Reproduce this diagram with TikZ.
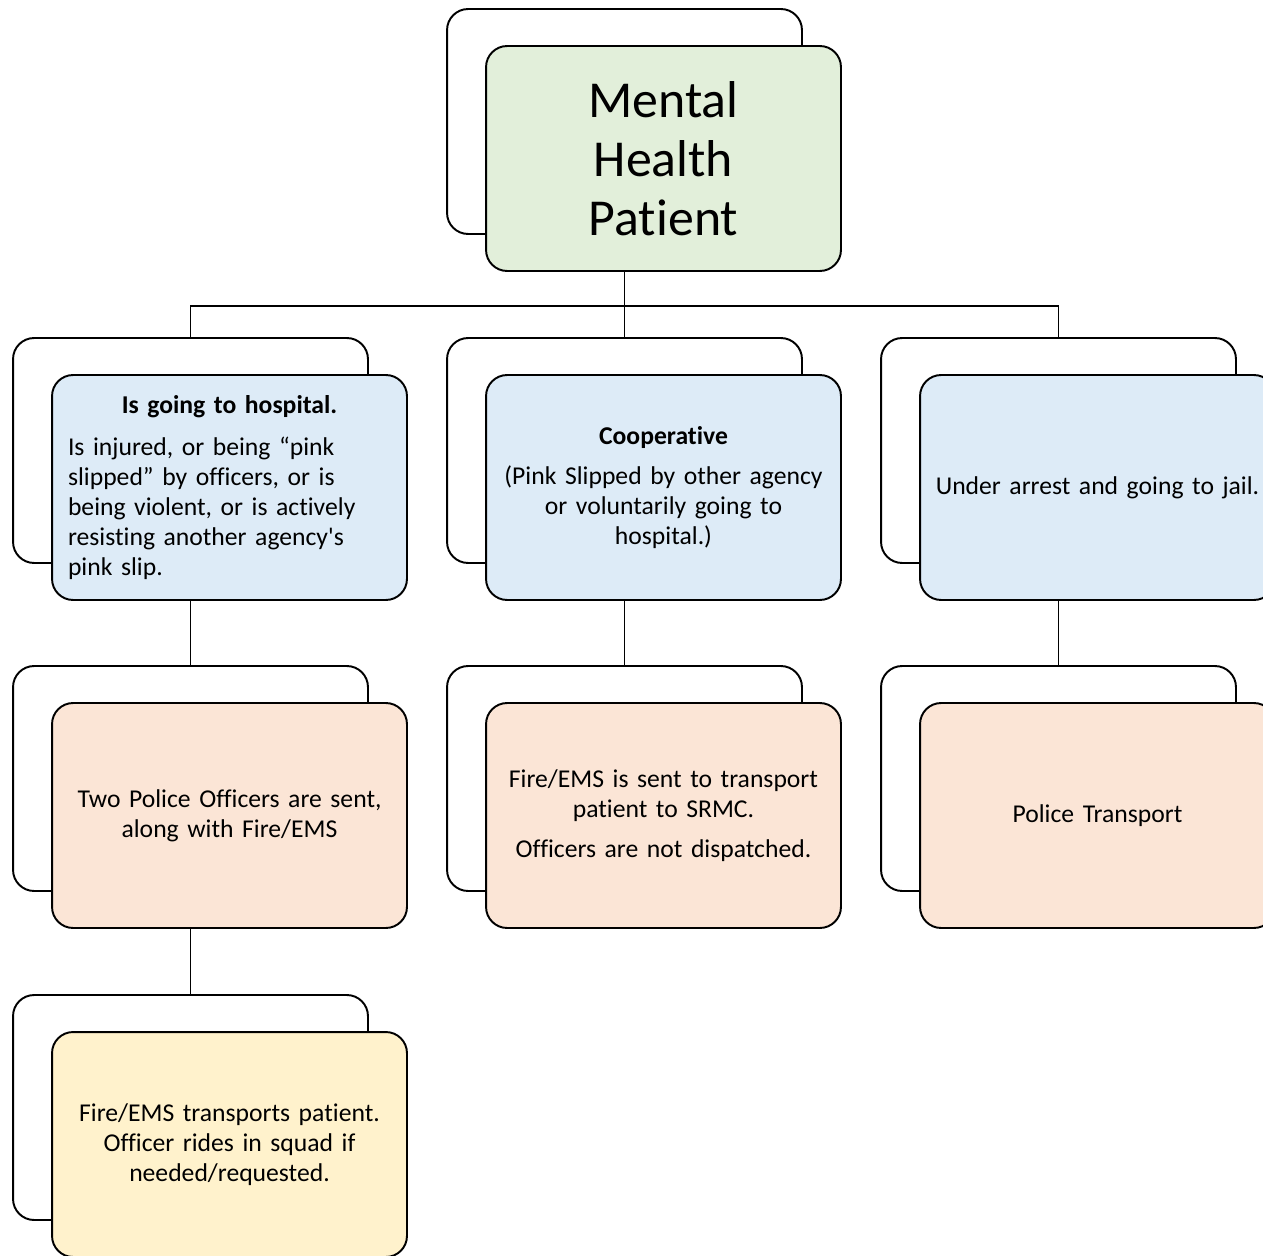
\documentclass[tikz,border=0pt]{standalone}
\usepackage{fontspec}
\setmainfont{Carlito}[Ligatures=NoCommon]
\usepackage{tikz}

\definecolor{mhgreen}{HTML}{E2EFDA}
\definecolor{mhblue}{HTML}{DDEBF7}
\definecolor{mhpeach}{HTML}{FBE5D6}
\definecolor{mhyellow}{HTML}{FFF2CC}

\newcommand{\boxfont}{\fontsize{14.6}{17}\selectfont}
\newcommand{\titlefont}{\fontsize{29.5}{33.5}\selectfont}

\tikzset{
    backbox/.style={draw, line width=1.1pt, rounded corners=12pt, fill=white,
        minimum width=7.1cm, minimum height=4.5cm},
    frontbox/.style={backbox, text width=6.7cm, align=center, inner sep=0pt, font=\boxfont},
    link/.style={line width=1.1pt},
}

\begin{document}
\begin{tikzpicture}[x=0.02cm, y=-0.02cm]
    \useasboundingbox (0,0) rectangle (1263,1256);
    \clip (0,0) rectangle (1263,1256);

    % Shadow boxes behind each card
    \node[backbox] (patientback) at (624.5,121.5) {};
    \node[backbox] (hospback)    at (190.5,450.5) {};
    \node[backbox] (coopback)    at (624.5,450.5) {};
    \node[backbox] (arrestback)  at (1058.5,450.5) {};
    \node[backbox] (sentback)    at (190.5,778.5) {};
    \node[backbox] (emsback)     at (624.5,778.5) {};
    \node[backbox] (policeback)  at (1058.5,778.5) {};
    \node[backbox] (rideback)    at (190.5,1107.5) {};

    % Tree lines
    \draw[link] (patientback.south) -- ++(0,71) -| (hospback.north);
    \draw[link] (patientback.south) -- ++(0,71) -| (arrestback.north);
    \draw[link] (patientback.south) -- (coopback.north);
    \draw[link] (hospback.south) -- (sentback.north);
    \draw[link] (coopback.south) -- (emsback.north);
    \draw[link] (arrestback.south) -- (policeback.north);
    \draw[link] (sentback.south) -- (rideback.north);

    % Top card
    \node[frontbox, fill=mhgreen, font=\titlefont] (patient) at (663.5,158.5)
        {Mental\\Health\\Patient};

    % Second row
    \node[frontbox, fill=mhblue, text width=6.46cm, align=left] (hosp) at (229.5,487.5)
        {\makebox[\linewidth]{\textbf{Is going to hospital.}}\\[7pt]
         Is injured, or being “pink\\slipped” by officers, or is\\being violent, or is actively\\resisting another agency\textquotesingle s\\pink slip.};
    \node[frontbox, fill=mhblue] (coop) at (663.5,487.5)
        {\textbf{Cooperative}\\[6pt](Pink Slipped by other agency\\or voluntarily going to\\hospital.)};
    \node[frontbox, fill=mhblue] (arrest) at (1097.5,487.5)
        {Under arrest and going to jail.};

    % Third row
    \node[frontbox, fill=mhpeach] (sent) at (229.5,815.5)
        {Two Police Officers are sent,\\along with Fire/EMS};
    \node[frontbox, fill=mhpeach] (ems) at (663.5,815.5)
        {Fire/EMS is sent to transport\\patient to SRMC.\\[6pt]Officers are not dispatched.};
    \node[frontbox, fill=mhpeach] (police) at (1097.5,815.5)
        {Police Transport};

    % Last card
    \node[frontbox, fill=mhyellow] (ride) at (229.5,1144.5)
        {Fire/EMS transports patient.\\Officer rides in squad if\\needed/requested.};
\end{tikzpicture}
\end{document}
